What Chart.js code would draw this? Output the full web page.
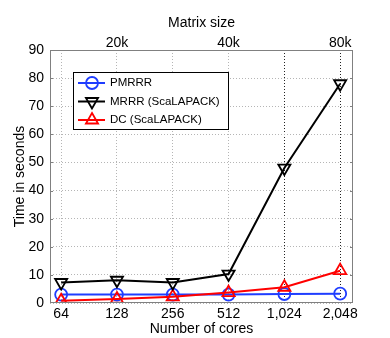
<!DOCTYPE html>
<html>
<head>
<meta charset="utf-8">
<script src="https://cdn.jsdelivr.net/npm/chart.js@4/dist/chart.umd.min.js"></script>
<style>
  html, body { margin: 0; padding: 0; background: #fff; }
  #wrap { width: 390px; height: 338px; }
</style>
</head>
<body>
<div id="wrap"><canvas id="myChart" width="390" height="338"></canvas></div>
<script>
// data
var cores = ['64', '128', '256', '512', '1,024', '2,048'];
var matrixTicks = [1, 3, 5];
var matrixLabels = ['20k', '40k', '80k'];
var pmrrr = [3.0, 3.0, 3.0, 3.0, 3.2, 3.3];
var mrrr = [7.3, 8.1, 7.3, 10.3, 48, 78];
var dc = [0.8, 1.4, 2.2, 3.7, 5.6, 11.5];

var FONT = '"Liberation Sans", Arial, Helvetica, sans-serif';
var BLUE = '#1f3dff';

function toPoints(arr) {
    return arr.map(function(v, i) { return {x: i, y: v}; });
}

// legend box + axes box, drawn by hand (matlab style)
var boxPlugin = {
    id: 'boxPlugin',
    afterDraw: function(chart) {
        var ctx = chart.ctx;
        var a = chart.chartArea;
        var ys = chart.scales.y;
        ctx.save();
        ctx.strokeStyle = '#808080';
        ctx.lineWidth = 1;
        ctx.strokeRect(a.left + 0.5, a.top + 0.5, a.right - a.left - 1, a.bottom - a.top - 1);
        // inward ticks
        ctx.beginPath();
        for (var v = 10; v < 90; v += 10) {
            var py = Math.round(ys.getPixelForValue(v)) + 0.5;
            ctx.moveTo(a.left, py); ctx.lineTo(a.left + 3, py);
            ctx.moveTo(a.right, py); ctx.lineTo(a.right - 3, py);
        }
        ctx.stroke();

        // legend
        var lx = 73, ly = 72, lw = 155, lh = 57;
        ctx.fillStyle = '#fff';
        ctx.fillRect(lx, ly, lw, lh);
        ctx.strokeStyle = '#000';
        ctx.strokeRect(lx + 0.5, ly + 0.5, lw, lh);
        var rows = [83, 101.5, 120];
        chart.data.datasets.forEach(function(ds, i) {
            var y = rows[i];
            ctx.strokeStyle = ds.borderColor;
            ctx.lineWidth = 2;
            ctx.beginPath();
            ctx.moveTo(78, y); ctx.lineTo(105, y);
            ctx.stroke();
            ctx.fillStyle = 'rgba(0,0,0,0)';
            ctx.lineWidth = 1.8;
            Chart.helpers.drawPoint(ctx, {
                pointStyle: ds.pointStyle,
                rotation: ds.pointRotation || 0,
                radius: ds.pointRadius,
                borderWidth: 1.8
            }, 92, y);
            ctx.fillStyle = '#000';
            ctx.font = '11.5px ' + FONT;
            ctx.textBaseline = 'middle';
            ctx.fillText(ds.label, 110, y);
        });
        ctx.restore();
    }
};

var ctx = document.getElementById('myChart').getContext('2d');

var config = {
    type: 'line',
    data: {
        datasets: [{
            label: 'PMRRR',
            data: toPoints(pmrrr),
            borderColor: BLUE,
            backgroundColor: 'transparent',
            borderWidth: 2,
            pointStyle: 'circle',
            pointRadius: 6,
            pointBorderWidth: 1.8,
            pointBackgroundColor: 'transparent',
            pointBorderColor: BLUE,
            order: 3
        }, {
            label: 'MRRR (ScaLAPACK)',
            data: toPoints(mrrr),
            borderColor: '#000',
            backgroundColor: 'transparent',
            borderWidth: 2,
            pointStyle: 'triangle',
            pointRotation: 180,
            pointRadius: 7,
            pointBorderWidth: 1.8,
            pointBackgroundColor: 'transparent',
            pointBorderColor: '#000',
            order: 1
        }, {
            label: 'DC (ScaLAPACK)',
            data: toPoints(dc),
            borderColor: '#ff0000',
            backgroundColor: 'transparent',
            borderWidth: 2,
            pointStyle: 'triangle',
            pointRadius: 7,
            pointBorderWidth: 1.8,
            pointBackgroundColor: 'transparent',
            pointBorderColor: '#ff0000',
            order: 2
        }]
    },
    plugins: [boxPlugin],
    options: {
        responsive: false,
        animation: false,
        layout: { padding: { left: 0, right: 37, top: 0, bottom: 0 } },
        plugins: {
            legend: { display: false },
            tooltip: { enabled: false }
        },
        scales: {
            x: {
                type: 'linear',
                position: 'bottom',
                min: -0.2,
                max: 5.23,
                afterBuildTicks: function(scale) {
                    scale.ticks = cores.map(function(c, i) { return {value: i}; });
                },
                afterFit: function(scale) { scale.height = 35; },
                ticks: {
                    callback: function(v) { return cores[v]; },
                    color: '#000',
                    font: { family: FONT, size: 14 },
                    padding: 3,
                    maxRotation: 0,
                    autoSkip: false
                },
                grid: {
                    drawTicks: false,
                    color: function(c) {
                        return c.tick && c.tick.value >= 4 ? '#222' : '#b5b5b5';
                    },
                    lineWidth: 1
                },
                border: { display: false, dash: [1, 2] },
                title: {
                    display: true,
                    text: 'Number of cores',
                    color: '#000',
                    font: { family: FONT, size: 14 },
                    padding: { top: 1.5, bottom: 0 }
                }
            },
            x2: {
                type: 'linear',
                position: 'top',
                min: -0.2,
                max: 5.23,
                afterBuildTicks: function(scale) {
                    scale.ticks = matrixTicks.map(function(v) { return {value: v}; });
                },
                afterFit: function(scale) { scale.height = 50; },
                ticks: {
                    callback: function(v) {
                        var k = matrixTicks.indexOf(v);
                        return k >= 0 ? matrixLabels[k] : '';
                    },
                    color: '#000',
                    font: { family: FONT, size: 14 },
                    padding: -2,
                    maxRotation: 0,
                    autoSkip: false
                },
                grid: { display: false, drawTicks: false },
                border: { display: false },
                title: {
                    display: true,
                    text: 'Matrix size',
                    color: '#000',
                    font: { family: FONT, size: 14 },
                    padding: { top: 15, bottom: 0 }
                }
            },
            y: {
                min: 0,
                max: 90,
                afterFit: function(scale) { scale.width = 50; },
                ticks: {
                    stepSize: 10,
                    color: '#000',
                    font: { family: FONT, size: 14 },
                    padding: 6
                },
                grid: {
                    drawTicks: false,
                    color: '#b5b5b5',
                    lineWidth: 1
                },
                border: { display: false, dash: [1, 2] },
                title: {
                    display: true,
                    text: 'Time in seconds',
                    color: '#000',
                    font: { family: FONT, size: 14 },
                    padding: { top: 11.5, bottom: 0 }
                }
            }
        }
    }
};

var scatterChart = new Chart(ctx, config);
</script>
</body>
</html>
